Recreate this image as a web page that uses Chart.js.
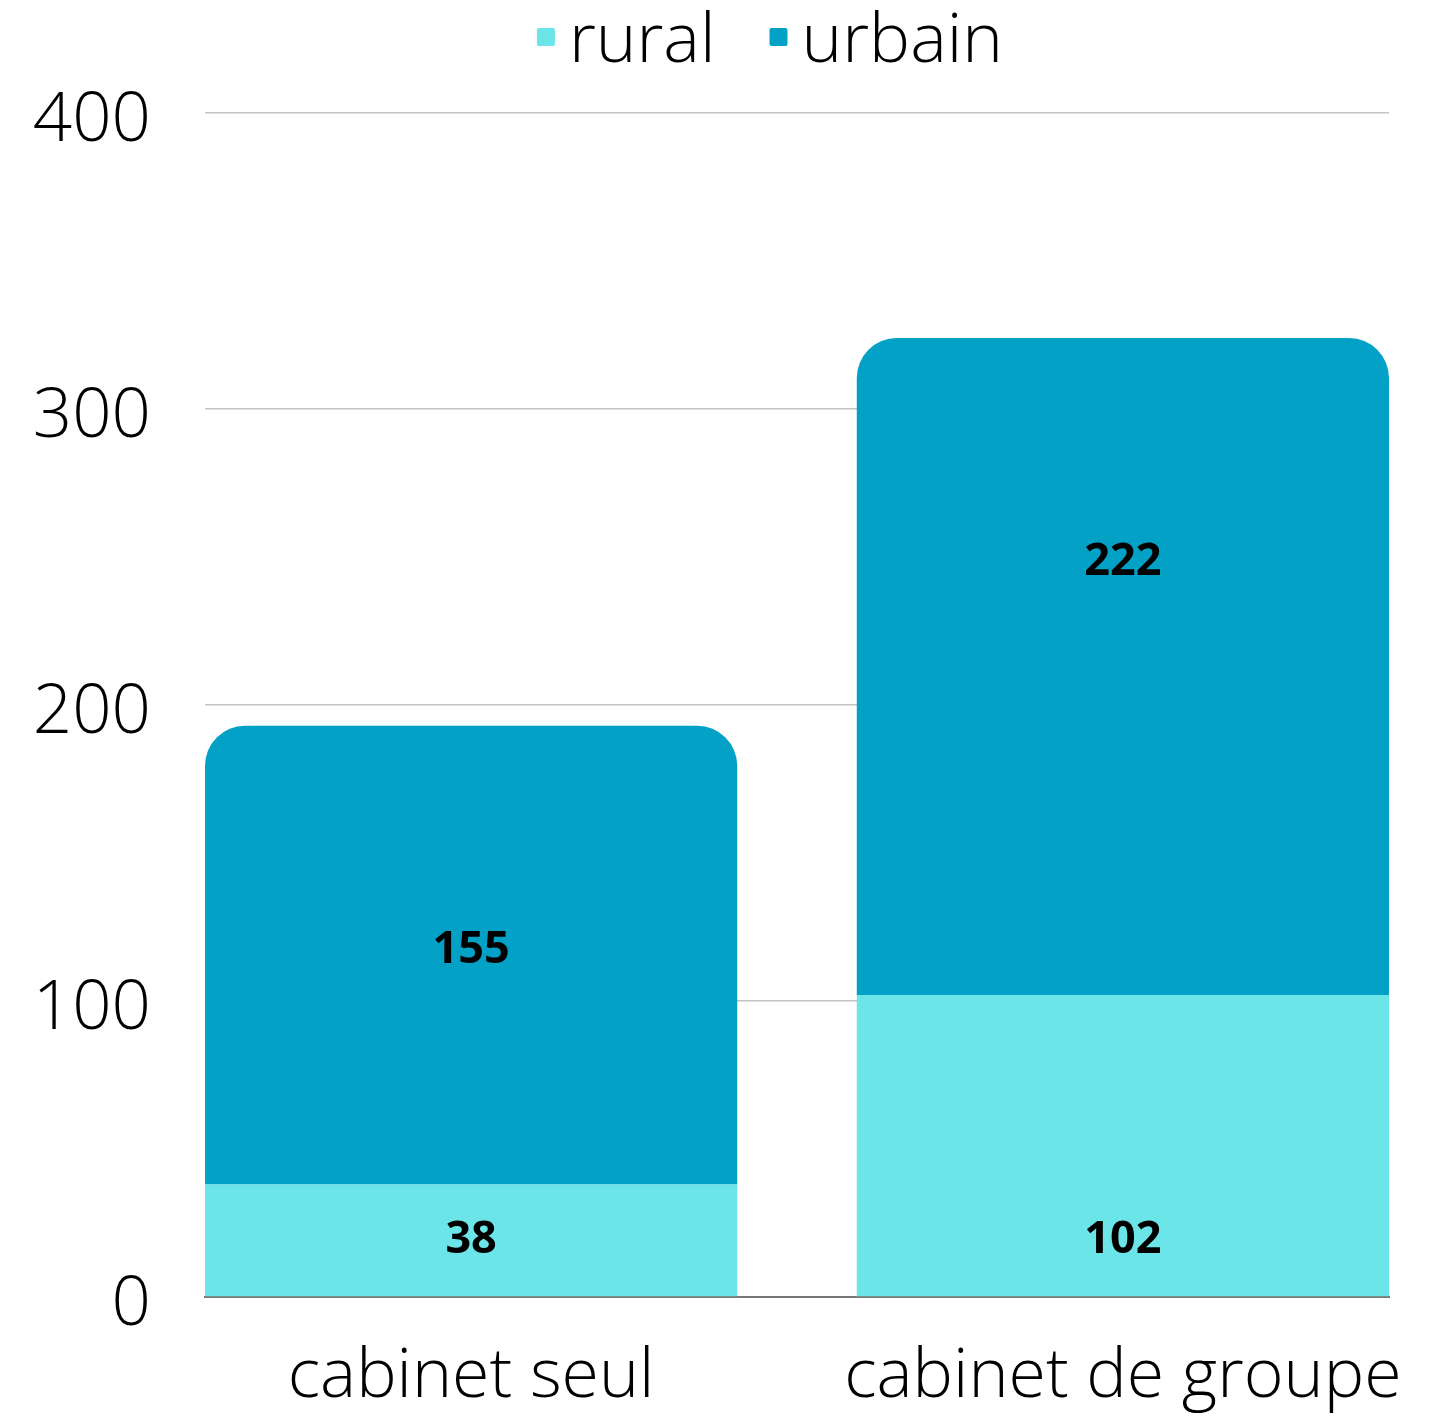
<!DOCTYPE html>
<html>
<head>
<meta charset="utf-8">
<title>cabinet seul / cabinet de groupe</title>
<script src="https://cdn.jsdelivr.net/npm/chart.js@4/dist/chart.umd.min.js"></script>
<style>
    html, body { margin: 0; padding: 0; background: #fff; }
    #wrap { width: 1430px; height: 1419px; position: relative; }
</style>
</head>
<body>
<div id="wrap"><canvas id="vb-chart"></canvas></div>
<script>
/* Data */
var categories  = ['cabinet seul', 'cabinet de groupe'];
var seriesNames = ['rural', 'urbain'];
var rural       = [38, 102];
var urbain      = [155, 222];
var yTicks      = [0, 100, 200, 300, 400];

(function() {
    'use strict';

    var colors = ['#6be5e8', '#03a1c6'];
    var FONT = '"Open Sans", "Noto Sans", sans-serif';

    /* ── Legend drawn by hand (small squares, tight gap) ── */
    var legendPlugin = {
        id: 'vbLegend',
        afterDraw: function(chart) {
            var ctx = chart.ctx;
            var box = 18, gap = 14, itemGap = 54, mid = 42;
            ctx.save();
            ctx.font = '300 69px ' + FONT;
            ctx.textBaseline = 'middle';
            ctx.textAlign = 'left';
            var total = 0;
            var widths = seriesNames.map(function(n) { return ctx.measureText(n).width; });
            widths.forEach(function(w, i) { total += box + gap + w + (i ? itemGap : 0); });
            var x = 770 - total / 2;
            seriesNames.forEach(function(n, i) {
                ctx.fillStyle = colors[i];
                ctx.beginPath();
                ctx.roundRect(x, 28, box, box, 2);
                ctx.fill();
                ctx.fillStyle = '#000';
                ctx.fillText(n, x + box + gap, mid);
                x += box + gap + widths[i] + itemGap;
            });
            ctx.restore();
        }
    };

    /* ── Value labels inside the bars ── */
    var valuePlugin = {
        id: 'vbValues',
        afterDatasetsDraw: function(chart) {
            var ctx = chart.ctx;
            ctx.save();
            ctx.font = 'bold 45px ' + FONT;
            ctx.fillStyle = '#000';
            ctx.textAlign = 'center';
            ctx.textBaseline = 'middle';
            chart.data.datasets.forEach(function(ds, di) {
                var meta = chart.getDatasetMeta(di);
                meta.data.forEach(function(bar, i) {
                    var y = di === 0 ? bar.base - 56 : bar.y + 224;
                    ctx.fillText(String(ds.data[i].y), bar.x, y);
                });
            });
            ctx.restore();
        }
    };

    function points(arr) {
        return arr.map(function(v, i) { return { x: i, y: v }; });
    }

    var el = document.getElementById('vb-chart');
    new Chart(el, {
        type: 'bar',
        data: {
            datasets: [
                { label: seriesNames[0], data: points(rural),  backgroundColor: colors[0], borderRadius: 0 },
                { label: seriesNames[1], data: points(urbain), backgroundColor: colors[1],
                  borderRadius: { topLeft: 40, topRight: 40, bottomLeft: 0, bottomRight: 0 } }
            ]
        },
        options: {
            responsive: true,
            maintainAspectRatio: false,
            animation: false,
            barPercentage: 0.8166,
            categoryPercentage: 1,
            layout: { padding: { top: 113, left: 0, right: 41, bottom: 0 } },
            plugins: { legend: { display: false }, tooltip: { enabled: false } },
            scales: {
                x: {
                    type: 'linear',
                    stacked: true,
                    offset: false,
                    bounds: 'data',
                    min: -0.4083,
                    max: 1.4083,
                    z: 1,
                    grid: { display: false, drawTicks: false, offset: false },
                    border: { display: true, color: '#777', width: 2 },
                    afterBuildTicks: function(scale) {
                        scale.ticks = categories.map(function(c, i) { return { value: i }; });
                    },
                    afterFit: function(scale) {
                        scale.height = 122;
                        scale.paddingLeft = 0;
                        scale.paddingRight = 0;
                    },
                    ticks: {
                        padding: 40,
                        color: '#000',
                        font: { family: FONT, size: 68, weight: '300', lineHeight: 1.2 },
                        callback: function(v) { return categories[v]; },
                        maxRotation: 0,
                        autoSkip: false
                    }
                },
                y: {
                    stacked: true,
                    min: yTicks[0],
                    max: yTicks[yTicks.length - 1],
                    grid: { color: '#c4c4c4', lineWidth: 1.5, drawTicks: false },
                    border: { display: false },
                    afterBuildTicks: function(scale) {
                        scale.ticks = yTicks.map(function(v) { return { value: v }; });
                    },
                    afterFit: function(scale) { scale.width = 205; },
                    ticks: {
                        padding: 54,
                        labelOffset: 8,
                        color: '#000',
                        font: { family: FONT, size: 69, weight: '300', lineHeight: 1.2 }
                    }
                }
            }
        },
        plugins: [legendPlugin, valuePlugin]
    });
})();
</script>
</body>
</html>
